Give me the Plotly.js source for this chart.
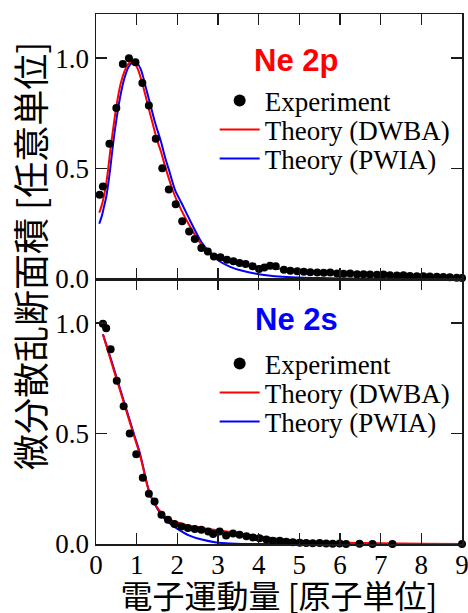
<!DOCTYPE html>
<html>
<head>
<meta charset="utf-8">
<script src="https://cdn.plot.ly/plotly-3.0.1.min.js"></script>
<style>
html, body { margin: 0; padding: 0; background: #fff; }
#chart { width: 468px; height: 613px; }
</style>
</head>
<body>
<div id="chart"></div>
<script>
// ---- Ne 2p (upper panel) ----
const x2pExp = [0.09, 0.17, 0.33, 0.50, 0.66, 0.81, 0.97, 1.14, 1.30, 1.47, 1.63, 1.79, 1.96, 2.12, 2.29, 2.43, 2.59, 2.75, 2.90, 3.06, 3.22, 3.38, 3.53, 3.68, 3.85, 4.01, 4.14, 4.28, 4.42, 4.62, 4.78, 4.95, 5.11, 5.27, 5.44, 5.60, 5.76, 5.93, 6.09, 6.25, 6.42, 6.58, 6.74, 6.91, 7.07, 7.23, 7.40, 7.56, 7.72, 7.89, 8.05, 8.21, 8.38, 8.54, 8.70, 8.87, 9.00];
const y2pExp = [0.381, 0.419, 0.612, 0.774, 0.974, 1.0, 0.982, 0.887, 0.786, 0.635, 0.502, 0.405, 0.338, 0.261, 0.215, 0.181, 0.140, 0.124, 0.102, 0.099, 0.087, 0.080, 0.073, 0.068, 0.058, 0.045, 0.052, 0.060, 0.058, 0.042, 0.037, 0.035, 0.033, 0.031, 0.030, 0.028, 0.029, 0.025, 0.024, 0.025, 0.022, 0.021, 0.020, 0.019, 0.020, 0.017, 0.016, 0.017, 0.014, 0.013, 0.013, 0.011, 0.010, 0.009, 0.008, 0.006, 0.005];

const x2pDWBA = [0.08, 0.15, 0.2, 0.25, 0.3, 0.35, 0.4, 0.5, 0.6, 0.7, 0.8, 0.87, 0.95, 1.05, 1.18, 1.3, 1.4, 1.5, 1.6, 1.7, 1.8, 1.9, 2.0, 2.2, 2.4, 2.6, 2.8, 3.0, 3.3, 3.6, 4.0, 4.5, 5.0, 5.5, 6.0, 7.0, 8.0, 9.0];
const y2pDWBA = [0.30, 0.34, 0.38, 0.43, 0.50, 0.58, 0.65, 0.78, 0.88, 0.94, 0.975, 0.985, 0.978, 0.94, 0.857, 0.77, 0.70, 0.63, 0.575, 0.51, 0.45, 0.395, 0.35, 0.275, 0.21, 0.155, 0.12, 0.095, 0.075, 0.065, 0.055, 0.046, 0.038, 0.032, 0.027, 0.019, 0.013, 0.009];

const x2pPWIA = [0.08, 0.15, 0.2, 0.25, 0.3, 0.35, 0.4, 0.45, 0.5, 0.6, 0.7, 0.8, 0.93, 1.0, 1.1, 1.24, 1.35, 1.45, 1.6, 1.7, 1.8, 1.95, 2.1, 2.3, 2.45, 2.6, 2.8, 3.0, 3.3, 3.6, 4.0, 4.4, 4.8, 5.5, 6.5, 7.5, 9.0];
const y2pPWIA = [0.25, 0.29, 0.33, 0.37, 0.43, 0.50, 0.58, 0.655, 0.72, 0.83, 0.91, 0.96, 0.985, 0.98, 0.95, 0.857, 0.78, 0.71, 0.62, 0.55, 0.49, 0.40, 0.345, 0.27, 0.215, 0.165, 0.12, 0.085, 0.055, 0.037, 0.022, 0.013, 0.008, 0.004, 0.002, 0.001, 0.0];

// ---- Ne 2s (lower panel) ----
const x2sExp = [0.17, 0.25, 0.36, 0.51, 0.68, 0.83, 0.99, 1.15, 1.30, 1.44, 1.61, 1.77, 1.93, 2.10, 2.26, 2.43, 2.59, 2.76, 2.88, 3.04, 3.20, 3.37, 3.53, 3.70, 3.86, 4.02, 4.19, 4.35, 4.52, 4.68, 4.84, 5.01, 5.17, 5.33, 5.50, 5.66, 5.82, 5.99, 6.15, 6.31, 6.48, 6.64, 6.80, 6.97, 7.13, 7.29, 7.46, 7.62, 7.78, 7.95, 8.11, 8.27, 8.44, 8.60, 8.76, 8.93, 9.00];
const y2sExp = [0.997, 0.977, 0.882, 0.739, 0.624, 0.50, 0.406, 0.30, 0.227, 0.192, 0.133, 0.110, 0.091, 0.079, 0.073, 0.068, 0.065, 0.057, 0.045, 0.057, 0.038, 0.048, 0.042, 0.035, 0.030, 0.026, 0.020, 0.015, 0.015, 0.010, 0.008, 0.006, 0.005, 0.003, 0.004, 0.002, 0.001, 0.002, 0.000, -0.001, 0.001, -0.002, 0.000, -0.001, -0.002, 0.000, -0.002, -0.001, -0.003, -0.001, -0.002, -0.002, -0.001, -0.003, -0.002, -0.001, 0.000];

const x2sDWBA = [0.17, 0.25, 0.35, 0.5, 0.65, 0.8, 0.95, 1.07, 1.15, 1.24, 1.33, 1.44, 1.55, 1.65, 1.77, 1.89, 2.05, 2.3, 2.6, 2.96, 3.3, 3.53, 4.0, 4.4, 4.77, 5.2, 6.0, 7.0, 8.0, 9.0];
const y2sDWBA = [0.95, 0.90, 0.84, 0.75, 0.66, 0.57, 0.48, 0.41, 0.352, 0.28, 0.225, 0.185, 0.154, 0.131, 0.116, 0.105, 0.095, 0.083, 0.073, 0.063, 0.054, 0.048, 0.035, 0.025, 0.018, 0.012, 0.006, 0.003, 0.001, 0.0];

const x2sPWIA = [0.17, 0.25, 0.35, 0.5, 0.65, 0.8, 0.95, 1.07, 1.15, 1.24, 1.33, 1.44, 1.55, 1.65, 1.77, 1.89, 2.05, 2.3, 2.6, 2.96, 3.3, 3.6, 4.0, 5.0, 9.0];
const y2sPWIA = [0.95, 0.905, 0.848, 0.758, 0.668, 0.578, 0.488, 0.418, 0.357, 0.283, 0.225, 0.182, 0.148, 0.122, 0.10, 0.083, 0.063, 0.038, 0.02, 0.007, 0.002, 0.0, 0.0, 0.0, 0.0];

// ---- labels ----
const seriesNames = ['Experiment', 'Theory (DWBA)', 'Theory (PWIA)'];
const panelLabels = ['Ne 2p', 'Ne 2s'];
const xTickVals = [0, 1, 2, 3, 4, 5, 6, 7, 8, 9];
const yTickVals = [0, 0.5, 1.0];
const xTitle = '電子運動量 [原子単位]';
const yTitle = '微分散乱断面積 [任意単位]';

const RED = 'rgb(255,0,0)';
const BLUE = 'rgb(0,0,255)';
const SERIF = 'Liberation Serif, Times New Roman, serif';
const CJK = 'Noto Sans CJK JP, sans-serif';

function lineTrace(x, y, color, name, xa, ya, leg) {
  return { x, y, type: 'scatter', mode: 'lines', name, xaxis: xa, yaxis: ya, legend: leg,
    line: { color, width: 2, shape: 'spline', smoothing: 0.8 } };
}
function dotTrace(x, y, name, xa, ya, leg) {
  return { x, y, type: 'scatter', mode: 'markers', name, xaxis: xa, yaxis: ya, legend: leg,
    cliponaxis: false, marker: { color: '#000', size: 8 } };
}

const data = [
  lineTrace(x2pPWIA, y2pPWIA, BLUE, seriesNames[2], 'x', 'y', 'legend3'),
  lineTrace(x2pDWBA, y2pDWBA, RED, seriesNames[1], 'x', 'y', 'legend2'),
  dotTrace(x2pExp, y2pExp, seriesNames[0], 'x', 'y', 'legend'),
  lineTrace(x2sPWIA, y2sPWIA, BLUE, seriesNames[2], 'x2', 'y2', 'legend6'),
  lineTrace(x2sDWBA, y2sDWBA, RED, seriesNames[1], 'x2', 'y2', 'legend5'),
  dotTrace(x2sExp, y2sExp, seriesNames[0], 'x2', 'y2', 'legend4')
];

const axisCommon = {
  showline: true, linecolor: '#1a1a1a', linewidth: 1.5, mirror: 'allticks',
  ticks: 'inside', ticklen: 11, tickwidth: 1.5, tickcolor: '#1a1a1a',
  showgrid: false, zeroline: false, ticklabeloverflow: 'allow',
  tickfont: { family: SERIF, size: 27, color: '#000' }
};

function legendAt(y, sizing) {
  return { x: 0.3242, y, xanchor: 'left', yanchor: 'middle', bgcolor: 'rgba(0,0,0,0)',
    borderwidth: 0, itemwidth: 40, itemsizing: sizing,
    font: { family: SERIF, size: 27, color: '#000' } };
}

const layout = {
  width: 468, height: 613,
  margin: { l: 96, r: 6, t: 14, b: 69 },
  paper_bgcolor: '#fff', plot_bgcolor: '#fff',
  showlegend: true,
  xaxis: Object.assign({}, axisCommon, { anchor: 'y', domain: [0, 1], range: [0, 9], tickvals: xTickVals, showticklabels: false }),
  yaxis: Object.assign({}, axisCommon, { anchor: 'x', domain: [0.5, 1], range: [0, 1.2], tickvals: yTickVals, tickformat: '.1f' }),
  xaxis2: Object.assign({}, axisCommon, { anchor: 'y2', domain: [0, 1], range: [0, 9], tickvals: xTickVals,
    ticklabelstandoff: -4,
    title: { text: xTitle, font: { family: CJK, size: 32, color: '#000' }, standoff: 10 } }),
  yaxis2: Object.assign({}, axisCommon, { anchor: 'x2', domain: [0, 0.5], range: [0, 1.2], tickvals: yTickVals, tickformat: '.1f' }),
  legend: legendAt(0.8358, 'constant'),
  legend2: legendAt(0.7811, 'trace'),
  legend3: legendAt(0.7264, 'trace'),
  legend4: legendAt(0.3396, 'constant'),
  legend5: legendAt(0.2849, 'trace'),
  legend6: legendAt(0.2302, 'trace'),
  annotations: [
    { text: '<b>' + panelLabels[0] + '</b>', xref: 'x', yref: 'y', x: 3.83, y: 0.99, xanchor: 'left', yanchor: 'middle',
      showarrow: false, font: { family: 'Liberation Sans, Arial, sans-serif', size: 31, color: RED } },
    { text: '<b>' + panelLabels[1] + '</b>', xref: 'x2', yref: 'y2', x: 3.85, y: 1.015, xanchor: 'left', yanchor: 'middle',
      showarrow: false, font: { family: 'Liberation Sans, Arial, sans-serif', size: 31, color: BLUE } },
    { text: yTitle, xref: 'paper', yref: 'paper', x: -0.183, y: 0.5434, xanchor: 'center', yanchor: 'middle',
      textangle: -90, showarrow: false, font: { family: CJK, size: 36, color: '#000' } }
  ]
};

function nudgeXTitle() {
  var xt = document.querySelector('.g-x2title text');
  if (xt && !xt.dataset.moved) {
    xt.setAttribute('y', String(parseFloat(xt.getAttribute('y')) + 4));
    xt.dataset.moved = '1';
  }
}

Plotly.newPlot('chart', data, layout, { displayModeBar: false, staticPlot: true }).then(nudgeXTitle);
</script>
</body>
</html>
